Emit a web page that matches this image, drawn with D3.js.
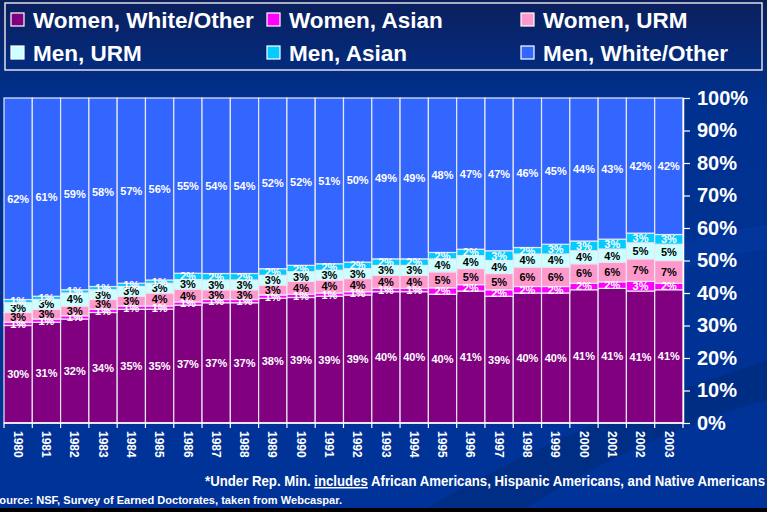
<!DOCTYPE html>
<html><head><meta charset="utf-8">
<script src="https://cdn.jsdelivr.net/npm/d3@7/dist/d3.min.js"></script>
<style>html,body{margin:0;padding:0;background:#003399;overflow:hidden}
text{font-family:"Liberation Sans",Arial,Helvetica,sans-serif;font-weight:bold}</style>
</head><body><svg id="c" width="767" height="512"></svg>
<script>
const years = [1980,1981,1982,1983,1984,1985,1986,1987,1988,1989,1990,1991,1992,1993,1994,1995,1996,1997,1998,1999,2000,2001,2002,2003];
const womenWhiteOther = [30,31,32,34,35,35,37,37,37,38,39,39,39,40,40,40,41,39,40,40,41,41,41,41];
const womenAsian      = [1,1,1,1,1,1,1,1,1,1,1,1,1,1,1,2,2,2,2,2,2,2,3,2];
const womenURM        = [3,3,3,3,3,4,4,3,3,3,4,4,4,4,4,5,5,5,6,6,6,6,7,7];
const menURM          = [3,3,4,3,3,3,3,3,3,3,3,3,3,3,3,4,4,4,4,4,4,4,5,5];
const menAsian        = [1,1,1,1,1,1,2,2,2,2,2,2,2,2,2,2,2,3,2,3,3,3,3,3];
const menWhiteOther   = [62,61,59,58,57,56,55,54,54,52,52,51,50,49,49,48,47,47,46,45,44,43,42,42];
const seriesNames = ["Women, White/Other","Women, Asian","Women, URM","Men, URM","Men, Asian","Men, White/Other"];
const seriesValues = [womenWhiteOther,womenAsian,womenURM,menURM,menAsian,menWhiteOther];
const yTickValues = [0,0.1,0.2,0.3,0.4,0.5,0.6,0.7,0.8,0.9,1.0];
const footnote = ["*Under Rep. Min. ","includes"," African Americans, Hispanic Americans, and Native Americans"];
const source = "Source: NSF, Survey of Earned Doctorates, taken from Webcaspar.";

const colors = ["#800080","#ff00ff","#ff99cc","#ccffff","#00ccff","#3366ff"];
const labelColors = ["#ffffff","#ffffff","#000000","#000000","#ffffff","#ffffff"];

const svg = d3.select("#c");
const W = 767, H = 512;

// background
const defs = svg.append("defs");
const g1 = defs.append("linearGradient").attr("id","bg").attr("x1",0).attr("y1",0).attr("x2",0).attr("y2",1);
g1.append("stop").attr("offset","0").attr("stop-color","#0b1f5c");
g1.append("stop").attr("offset","0.2").attr("stop-color","#00318f");
g1.append("stop").attr("offset","1").attr("stop-color","#003399");
svg.append("rect").attr("width",W).attr("height",H).attr("fill","url(#bg)");
svg.append("path").attr("d","M420,512 C560,430 680,390 767,360 L767,400 C690,420 600,460 520,512 Z").attr("fill","#00286e").attr("opacity",0.45);
svg.append("path").attr("d","M560,300 C640,250 720,230 767,225 L767,250 C720,255 650,275 590,310 Z").attr("fill","#0a3fa8").attr("opacity",0.35);
svg.append("rect").attr("x",0).attr("y",508).attr("width",W).attr("height",4).attr("fill","#000");

// data table
const keys = seriesNames;
const table = years.map((yr,i)=>{const o={year:yr}; keys.forEach((k,j)=>o[k]=seriesValues[j][i]); return o;});
const stacked = d3.stack().keys(keys).offset(d3.stackOffsetExpand)(table);

const x = d3.scaleBand().domain(years).range([4,683]).padding(0);
const y = d3.scaleLinear().domain([0,1]).range([423,98]);

const layers = svg.append("g").selectAll("g").data(stacked).join("g")
  .attr("fill",(d,i)=>colors[i]);
layers.selectAll("rect").data(d=>d).join("rect")
  .attr("x",d=>x(d.data.year)).attr("width",x.bandwidth())
  .attr("y",d=>y(d[1])).attr("height",d=>y(d[0])-y(d[1]))
  .attr("stroke","#e8e8f0").attr("stroke-width",1.2);

// segment labels
const lab = svg.append("g");
stacked.forEach((s,i)=>{
  lab.selectAll(null).data(s).join("text")
    .attr("x",d=>x(d.data.year)+x.bandwidth()/2)
    .attr("y",d=>y((d[0]+d[1])/2))
    .attr("dy","0.36em")
    .attr("text-anchor","middle")
    .attr("font-size",11)
    .attr("fill",labelColors[i])
    .text(d=>d.data[s.key]+"%");
});

// right axis
const ay = svg.append("g").attr("transform","translate(683,0)")
  .call(d3.axisRight(y).tickValues(yTickValues).tickFormat(d3.format(".0%")).tickSize(7).tickSizeOuter(0).tickPadding(7));
ay.select(".domain").attr("stroke","#fff").attr("stroke-width",1.5);
ay.selectAll(".tick line").attr("stroke","#fff").attr("stroke-width",1.2);
ay.selectAll(".tick text").attr("fill","#fff").attr("font-size",20).attr("font-family",null);

// bottom axis
const ax = svg.append("g");
ax.append("line").attr("x1",x.range()[0]).attr("x2",x.range()[1]).attr("y1",423).attr("y2",423).attr("stroke","#fff").attr("stroke-width",1.5);
const bounds = years.map(yr=>x(yr)).concat([x(years[years.length-1])+x.bandwidth()]);
ax.selectAll("line.t").data(bounds).join("line").attr("class","t")
  .attr("x1",d=>d).attr("x2",d=>d).attr("y1",423).attr("y2",428).attr("stroke","#fff").attr("stroke-width",1.2);
ax.selectAll("text").data(years).join("text")
  .attr("transform",d=>`translate(${x(d)+x.bandwidth()/2},431) rotate(90)`)
  .attr("dy","0.36em").attr("text-anchor","start").attr("font-size",12).attr("fill","#fff")
  .text(d=>d);

// legend
svg.append("rect").attr("x",5).attr("y",3).attr("width",757).attr("height",67)
  .attr("fill","none").attr("stroke","#e0e0e8").attr("stroke-width",1.5);
const legX = [11,267,521], legY = [20,53];
const lg = svg.append("g").selectAll("g").data(seriesNames).join("g")
  .attr("transform",(d,i)=>`translate(${legX[i%3]},${legY[Math.floor(i/3)]})`);
lg.append("rect").attr("x",0).attr("y",-7).attr("width",13).attr("height",13)
  .attr("fill",(d,i)=>colors[i]).attr("stroke","#fff").attr("stroke-width",1.2);
lg.append("text").attr("x",22).attr("y",0).attr("dy","0.36em").attr("font-size",22.5).attr("fill","#fff")
  .text(d=>d);

// footnotes
const fn = svg.append("text").attr("x",765).attr("y",486).attr("text-anchor","end")
  .attr("font-size",15).attr("fill","#fff").attr("textLength",560).attr("lengthAdjust","spacingAndGlyphs");
fn.append("tspan").text(footnote[0]);
fn.append("tspan").attr("text-decoration","underline").text(footnote[1]);
fn.append("tspan").text(footnote[2]);
svg.append("text").attr("x",-8).attr("y",504).attr("font-size",11).attr("fill","#fff")
  .attr("textLength",350).attr("lengthAdjust","spacingAndGlyphs").text(source);
</script></body></html>
